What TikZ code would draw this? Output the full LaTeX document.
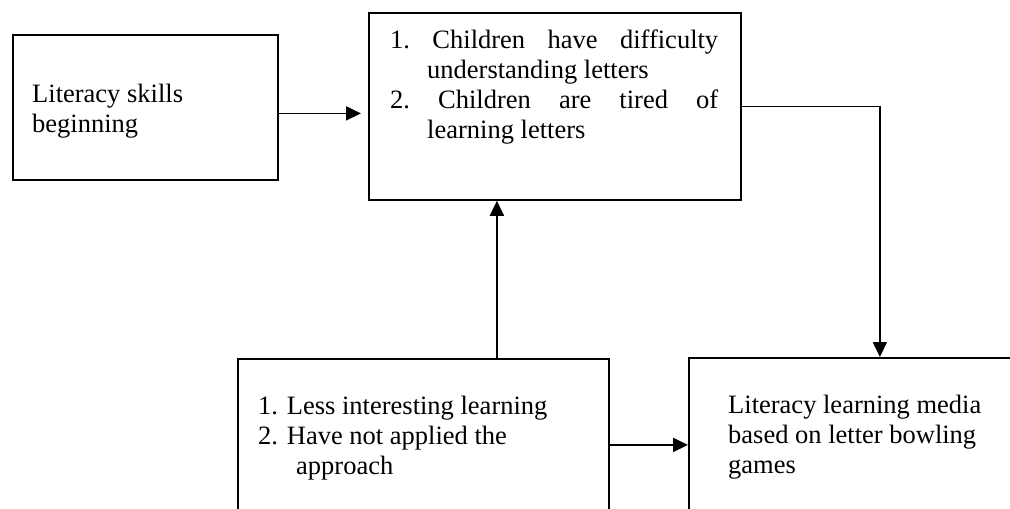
\documentclass[tikz,border=0pt]{standalone}
\usepackage{fontspec}
\setmainfont{Liberation Serif}
\usetikzlibrary{arrows.meta}
\newcommand{\bodyfont}{\fontsize{26.5}{30}\selectfont}
\begin{document}
\begin{tikzpicture}[x=1pt,y=-1pt,
  box/.style={draw, line width=1.8pt, inner sep=0pt, anchor=north west},
  txt/.style={anchor=base west, inner sep=0pt},
  arr/.style={line width=1.8pt, -{Triangle[length=15pt,width=14pt]}}]
\useasboundingbox (0,0) rectangle (1010,509);
\clip (0,0) rectangle (1010,509);
% boxes
\node[box, minimum width=265pt, minimum height=145pt] (a) at (12,34) {};
\node[box, minimum width=372pt, minimum height=187pt] (b) at (368,12) {};
\node[box, minimum width=371pt, minimum height=172pt] (c) at (237,358) {};
\node[box, minimum width=382pt, minimum height=174pt] (d) at (688,357) {};
% texts
\node[txt] (ta) at (32,102) {\parbox[t]{240pt}{\bodyfont Literacy skills\\beginning}};
\node[txt] (tb) at (390,48) {\parbox[t]{340pt}{\bodyfont
  \makebox[328pt][s]{1.\ Children have difficulty}\\
  \hspace*{37pt}understanding letters\\
  \makebox[328pt][s]{2.\ Children are tired of}\\
  \hspace*{37pt}learning letters}};
\node[txt] (tc) at (258,414) {\parbox[t]{340pt}{\bodyfont
  1. Less interesting learning\\
  2. Have not applied the\\
  \hspace*{38pt}approach}};
\node[txt] (td) at (728,413) {\parbox[t]{280pt}{\bodyfont
  Literacy learning media\\
  based on letter bowling\\
  games}};
% connectors
\draw[arr, shorten >=7pt] ([yshift=-6pt]a.east) -- ([yshift=-6pt]a.east -| b.west);
\draw[arr] (b.east) -| (d.north);
\draw[arr] ([xshift=73.5pt]c.north) -- ([xshift=73.5pt]c.north |- b.south);
\draw[arr] (c.east) -- (d.west);
\end{tikzpicture}
\end{document}
